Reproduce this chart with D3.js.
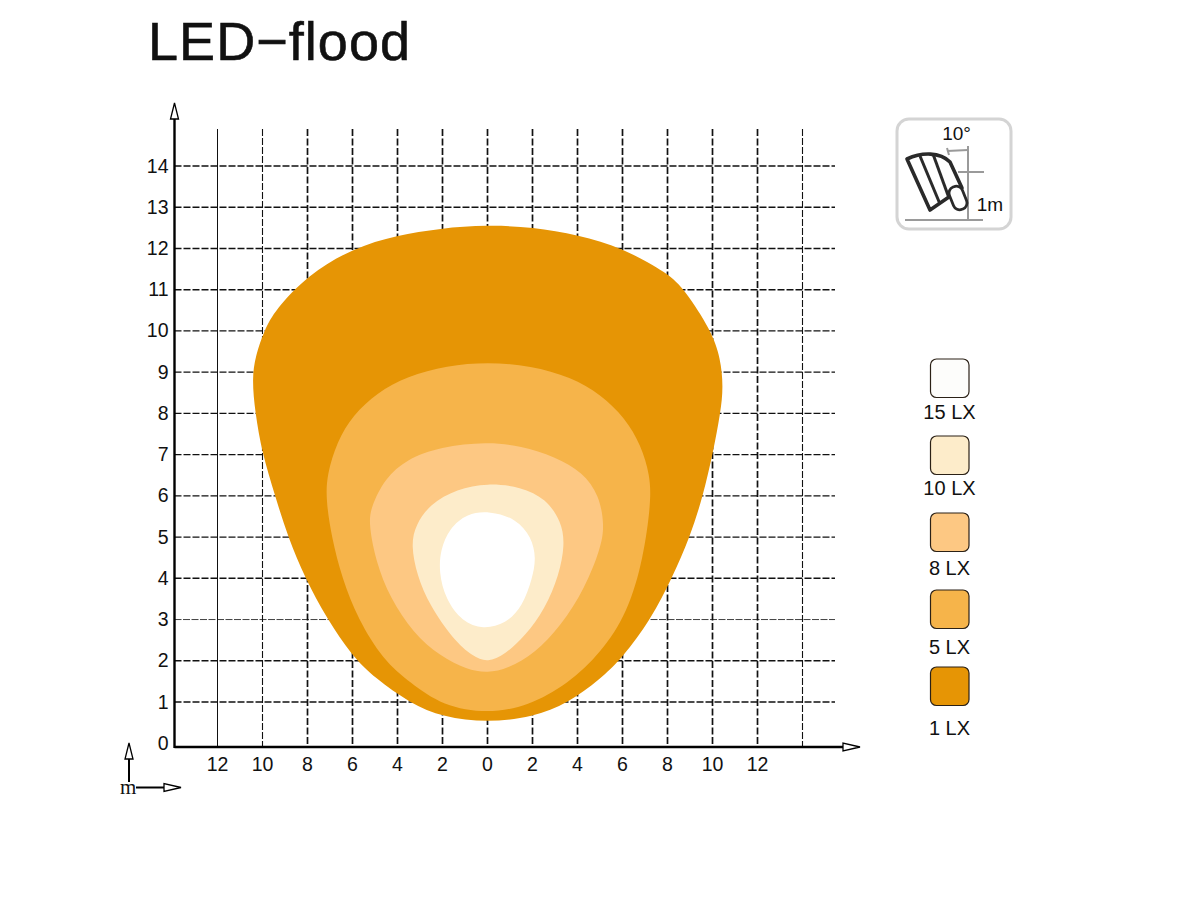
<!DOCTYPE html>
<html>
<head>
<meta charset="utf-8">
<title>LED-flood</title>
<script src="https://d3js.org/d3.v7.min.js"></script>
<style>
  html, body { margin: 0; padding: 0; background: #fff; }
  svg { display: block; }
  text { font-family: "Liberation Sans", Arial, sans-serif; fill: #111; }
</style>
</head>
<body>
<svg id="chart" width="1200" height="899"></svg>
<script>
var titleText = "LED\u2212flood";

// grid positions, metres
var xGrid = [-12, -10, -8, -6, -4, -2, 0, 2, 4, 6, 8, 10, 12, 14];
var yGrid = [1, 2, 3, 4, 5, 6, 7, 8, 9, 10, 11, 12, 13, 14];
var xTickLabels = [-12, -10, -8, -6, -4, -2, 0, 2, 4, 6, 8, 10, 12];
var yTickLabels = [0, 1, 2, 3, 4, 5, 6, 7, 8, 9, 10, 11, 12, 13, 14];

// illuminance contours [x m, y m]
var lux1 = [[0,12.57],[-2.11,12.49],[-4.02,12.32],[-5.98,12.01],[-7.98,11.36],[-9.44,10.51],[-9.93,10],[-10.3,9.42],[-10.47,8.86],[-10.33,8.03],[-10.02,7.04],[-9.44,6],[-8.87,5],[-8.11,4.01],[-7.13,3.01],[-6.02,2.12],[-5,1.58],[-3.44,0.97],[-1.98,0.63],[0,0.5],[2.02,0.63],[3.58,0.97],[5,1.55],[5.98,2.06],[7.27,3.01],[8.2,4.01],[9,5],[9.58,6],[10.02,7.04],[10.36,8.03],[10.48,8.64],[10.36,9.34],[9.93,10.02],[8.78,10.99],[8.02,11.4],[6.02,12.01],[4.02,12.33],[2.02,12.52]];
var lux5 = [[0,9.24],[-1.8,9.16],[-3.58,8.9],[-4.91,8.5],[-5.98,7.96],[-6.69,7.31],[-7.14,6.51],[-7.18,5.9],[-6.93,5],[-6.47,4.01],[-5.76,3.01],[-4.64,2.02],[-3.44,1.47],[-1.98,0.9],[0,0.72],[1.8,0.9],[3.58,1.44],[5.04,2.19],[6.24,3.18],[6.93,4.49],[7.27,5.85],[7.22,6.51],[6.82,7.23],[6.11,7.89],[5.04,8.46],[3.71,8.88],[1.93,9.16]];
var lux8 = [[0,7.31],[-2.11,7.19],[-3.58,6.89],[-4.56,6.43],[-5.2,5.71],[-5.27,5.29],[-4.96,4.4],[-4.33,3.52],[-3.31,2.68],[-2.11,2.11],[-0.91,1.78],[0,1.7],[0.91,1.81],[2.11,2.18],[3.27,2.85],[4.33,3.76],[5.04,4.74],[5.2,5.29],[4.96,6.02],[4.24,6.57],[3,6.95],[1.49,7.21]];
var lux10 = [[0,6.31],[-1.36,6.17],[-2.56,5.8],[-3.2,5.29],[-3.4,4.81],[-3.14,4.08],[-2.56,3.33],[-1.53,2.52],[-0.64,2.1],[0,1.96],[0.78,2.15],[1.67,2.6],[2.56,3.26],[3.18,4.08],[3.44,4.81],[3.29,5.37],[2.6,5.93],[1.49,6.22]];
var lux15 = [[0.11,5.63],[-0.91,5.58],[-1.71,5.2],[-2.09,4.69],[-2.16,4.15],[-1.87,3.5],[-1.13,2.95],[-0.2,2.76],[0.82,2.9],[1.56,3.32],[2,4.01],[2.16,4.49],[1.96,5],[1.27,5.45]];

var contours = [lux1, lux5, lux8, lux10, lux15];
var contourColors = ["#e69505", "#f6b44a", "#fdc883", "#fdecca", "#ffffff"];

// legend, top to bottom
var legendLabels = ["15 LX", "10 LX", "8 LX", "5 LX", "1 LX"];
var legendColors = ["#fdfdfb", "#fdecca", "#fdc883", "#f6b44a", "#e69505"];
var legendBoxY = [359, 436, 513, 590, 667];
var legendTextY = [419, 495, 575, 654, 735];

var svg = d3.select("#chart");

var x = d3.scaleLinear().domain([-12, 12]).range([217.5, 757.5]);
var y = d3.scaleLinear().domain([1, 14]).range([702, 166]);
var axisX = 174.5, axisY = 747, gridRight = 835, gridTop = 129;

svg.append("text")
    .attr("x", 148).attr("y", 60)
    .attr("textLength", 262)
    .attr("lengthAdjust", "spacing")
    .style("font-size", "54px")
    .style("stroke", "#111")
    .style("stroke-width", 0.6)
    .text(titleText);

// gridlines, each one scanned a little differently in the original
function vStyle(v) {
  if (v == -12) return {w: 1, dash: null};
  if (v == -10 || v == 14) return {w: 1.1, dash: "7 2"};
  return {w: 1.7, dash: "7 2.5"};
}
function hStyle(v) {
  if (v == 3) return {w: 0.8, dash: "7 1.5"};
  return {w: 1.4, dash: "7 2"};
}

svg.append("g").selectAll("line")
    .data(xGrid)
    .enter().append("line")
    .attr("x1", function(d) { return x(d); })
    .attr("x2", function(d) { return x(d); })
    .attr("y1", gridTop)
    .attr("y2", axisY)
    .attr("stroke", "#111")
    .attr("stroke-width", function(d) { return vStyle(d).w; })
    .attr("stroke-dasharray", function(d) { return vStyle(d).dash; });

svg.append("g").selectAll("line")
    .data(yGrid)
    .enter().append("line")
    .attr("x1", axisX)
    .attr("x2", gridRight)
    .attr("y1", function(d) { return y(d); })
    .attr("y2", function(d) { return y(d); })
    .attr("stroke", "#111")
    .attr("stroke-width", function(d) { return hStyle(d).w; })
    .attr("stroke-dasharray", function(d) { return hStyle(d).dash; });

// contours sit on top of the grid, basis curve irons out the reading noise
var contourLine = d3.line()
    .x(function(d) { return x(d[0]); })
    .y(function(d) { return y(d[1]); })
    .curve(d3.curveBasisClosed);

svg.append("g").selectAll("path")
    .data(contours)
    .enter().append("path")
    .attr("d", contourLine)
    .attr("fill", function(d, i) { return contourColors[i]; });

// axes
var axes = svg.append("g").attr("stroke", "#000").attr("stroke-width", 2.4).attr("fill", "none");
axes.append("line").attr("x1", axisX).attr("x2", axisX).attr("y1", 118).attr("y2", axisY + 1);
axes.append("line").attr("x1", axisX).attr("x2", 843).attr("y1", axisY).attr("y2", axisY);

function arrowUp(cx, tip) {
  return "M" + cx + "," + tip + "L" + (cx + 4) + "," + (tip + 16) + "L" + (cx - 4) + "," + (tip + 16) + "Z";
}
function arrowRight(tip, cy) {
  return "M" + tip + "," + cy + "L" + (tip - 17) + "," + (cy + 4) + "L" + (tip - 17) + "," + (cy - 4) + "Z";
}
var arrows = svg.append("g").attr("fill", "#fff").attr("stroke", "#000").attr("stroke-width", 1.3);
arrows.append("path").attr("d", arrowUp(174.5, 103));
arrows.append("path").attr("d", arrowRight(860, axisY));

// small "m" key, bottom left
var key = svg.append("g");
key.append("line").attr("x1", 129).attr("x2", 129).attr("y1", 758).attr("y2", 782)
    .attr("stroke", "#000").attr("stroke-width", 2);
key.append("line").attr("x1", 136).attr("x2", 165).attr("y1", 787.5).attr("y2", 787.5)
    .attr("stroke", "#000").attr("stroke-width", 2);
key.append("path").attr("d", arrowUp(129, 743)).attr("fill", "#fff").attr("stroke", "#000").attr("stroke-width", 1.3);
key.append("path").attr("d", arrowRight(181, 787.5)).attr("fill", "#fff").attr("stroke", "#000").attr("stroke-width", 1.3);
key.append("text").attr("x", 120).attr("y", 794)
    .style("font-family", "'Liberation Serif', serif").style("font-size", "21px").text("m");

// tick labels
svg.append("g").selectAll("text")
    .data(xTickLabels)
    .enter().append("text")
    .attr("x", function(d) { return x(d); })
    .attr("y", 771)
    .attr("text-anchor", "middle")
    .style("font-size", "19.5px")
    .text(function(d) { return Math.abs(d); });

svg.append("g").selectAll("text")
    .data(yTickLabels)
    .enter().append("text")
    .attr("x", 168.5)
    .attr("y", function(d) { return y(d) + 6.5; })
    .attr("text-anchor", "end")
    .style("font-size", "19.5px")
    .text(function(d) { return d; });

// legend
var legend = svg.append("g").selectAll("g")
    .data(legendLabels)
    .enter().append("g");
legend.append("rect")
    .attr("x", 930.5)
    .attr("y", function(d, i) { return legendBoxY[i]; })
    .attr("width", 38.5).attr("height", 38.5)
    .attr("rx", 6)
    .attr("fill", function(d, i) { return legendColors[i]; })
    .attr("stroke", "#2b2116")
    .attr("stroke-width", 1.2);
legend.append("text")
    .attr("x", 949.5)
    .attr("y", function(d, i) { return legendTextY[i]; })
    .attr("text-anchor", "middle")
    .style("font-size", "20px")
    .text(function(d) { return d; });

// mounting icon, top right
var icon = svg.append("g").attr("transform", "translate(880,100)");
icon.append("rect")
    .attr("x", 17).attr("y", 19).attr("width", 114).attr("height", 110).attr("rx", 12)
    .attr("fill", "#fff").attr("stroke", "#d4d4d4").attr("stroke-width", 3);
var thin = icon.append("g").attr("stroke", "#9a9a9a").attr("stroke-width", 2).attr("fill", "none");
thin.append("line").attr("x1", 25).attr("x2", 103).attr("y1", 120).attr("y2", 120);
thin.append("line").attr("x1", 88).attr("x2", 88).attr("y1", 46).attr("y2", 120);
thin.append("line").attr("x1", 78).attr("x2", 104).attr("y1", 72).attr("y2", 72);
thin.append("path").attr("d", "M67,51L88,50");
thin.append("line").attr("x1", 67).attr("x2", 69).attr("y1", 48).attr("y2", 55);
var lamp = icon.append("g").attr("stroke", "#2a2a2a").attr("fill", "#fff").attr("stroke-linejoin", "round");
lamp.append("path").attr("d", "M27,59C42,52 60,52 70,62L82,88L50,110Z").attr("stroke-width", 3.6);
lamp.append("line").attr("x1", 40).attr("y1", 56).attr("x2", 60).attr("y2", 104).attr("stroke-width", 3);
lamp.append("line").attr("x1", 53).attr("y1", 54).attr("x2", 69).attr("y2", 98).attr("stroke-width", 3);
lamp.append("rect").attr("x", -7).attr("y", -12).attr("width", 14).attr("height", 24).attr("rx", 6.5)
    .attr("transform", "translate(78,98) rotate(-22)").attr("stroke-width", 2.8);
icon.append("text").attr("x", 76.5).attr("y", 40).attr("text-anchor", "middle").style("font-size", "19px").text("10\u00B0");
icon.append("text").attr("x", 110).attr("y", 111).attr("text-anchor", "middle").style("font-size", "19px").text("1m");
</script>
</body>
</html>
